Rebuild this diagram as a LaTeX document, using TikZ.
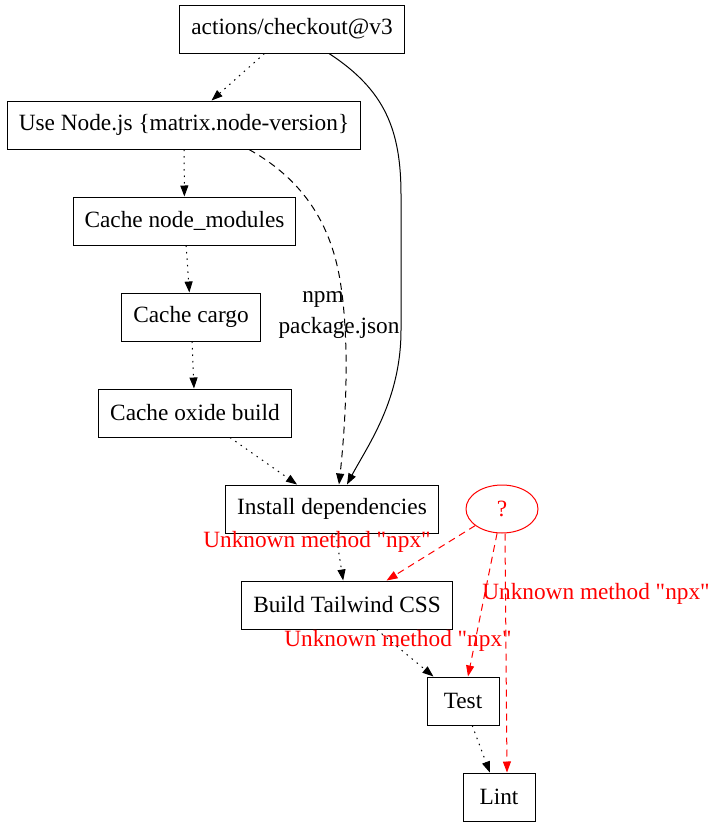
\documentclass[tikz,border=0pt]{standalone}
\usepackage{fontspec}
\setmainfont{Liberation Serif}[Ligatures=TeXOff]
\usetikzlibrary{arrows.meta,shapes.geometric}
\begin{document}
\begin{tikzpicture}[x=1pt,y=-1pt,>={Triangle[length=11pt,width=8pt]},line width=1pt,
	font=\fontsize{23.3}{28}\selectfont,
	box/.style={draw,rectangle,minimum height=48pt,minimum width=72pt,inner xsep=11.5pt},
	seq/.style={->,dash pattern=on 1.5pt off 5pt},
	dep/.style={->,dash pattern=on 7pt off 5pt},
	unk/.style={->,red,dash pattern=on 7pt off 5pt},
	err/.style={red}]
\useasboundingbox (0,0) rectangle (716,827);
% steps
\node[box] (checkout) at (292,29) {actions/checkout@v3};
\node[box] (nodejs) at (184,125) {Use Node.js \{matrix.node-version\}};
\node[box] (modules) at (184.5,221) {Cache node\_modules};
\node[box] (cargo) at (191,317) {Cache cargo};
\node[box] (oxide) at (195,413) {Cache oxide build};
\node[box] (install) at (332,509) {Install dependencies};
\node[draw=red,text=red,ellipse,minimum width=72pt,minimum height=48pt,inner sep=0pt] (unknown) at (502,509) {?};
\node[box] (build) at (347,605) {Build Tailwind CSS};
\node[box] (test) at (463,701) {Test};
\node[box] (lint) at (499,797) {Lint};
% order
\draw[seq] (checkout) -- (nodejs);
\draw[seq] (nodejs) -- (modules);
\draw[seq] (modules) -- (cargo);
\draw[seq] (cargo) -- (oxide);
\draw[seq] (oxide) -- (install);
\draw[seq] (install) -- (build);
\draw[seq] (build) -- (test);
\draw[seq] (test) -- (lint);
% inputs
\draw[->] ([xshift=37pt]checkout.south)
	.. controls (385,90) and (401,130) .. (401,195)
	-- (401,330)
	.. controls (401,400) and (368,445) .. ([xshift=15pt]install.north);
\draw[dep] ([xshift=65pt]nodejs.south)
	.. controls (300,178) and (330,220) .. (340,280)
	.. controls (350,340) and (346,420) .. ([xshift=7pt]install.north);
\node (npm) at (323,299) {npm};
\node (pkg) at (339,328) {package.json};
% unknown
\draw[unk] (unknown) -- (build);
\draw[unk] (unknown) -- (test);
\draw[unk] ([xshift=3pt]unknown.south) -- ([xshift=8pt]lint.north);
\node[err] (msg1) at (317,542) {Unknown method "npx"};
\node[err] (msg2) at (596,594) {Unknown method "npx"};
\node[err] (msg3) at (398,641) {Unknown method "npx"};
\end{tikzpicture}
\end{document}
